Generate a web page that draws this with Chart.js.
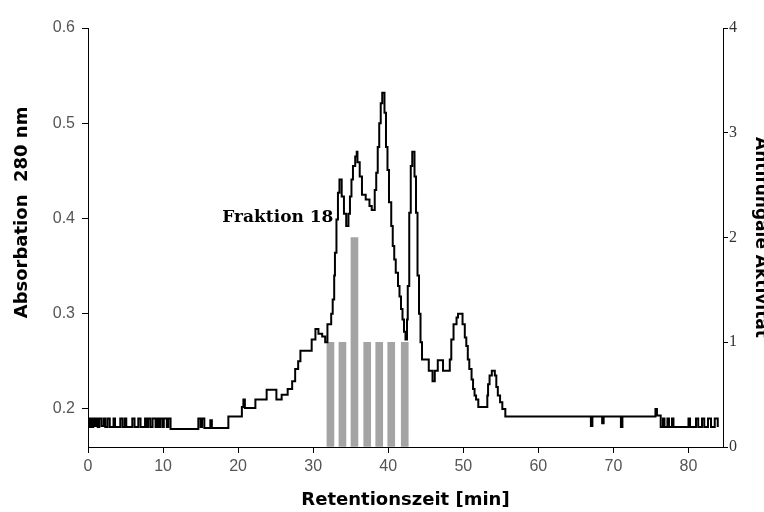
<!DOCTYPE html>
<html><head><meta charset="utf-8">
<script src="https://cdn.jsdelivr.net/npm/chart.js@4.4.1/dist/chart.umd.min.js"></script>
<style>
html,body{margin:0;padding:0;background:#fff;overflow:hidden;width:764px;height:512px}
#wrap{position:relative;width:790px;height:512px}
</style></head>
<body><div id="wrap"><canvas id="c"></canvas></div>
<script>
// Absorbance trace (step trace): time in minutes, absorbance at 280 nm
const retentionTime = [
  0.0,0.2,0.35,0.5,0.7,0.9,1.1,1.3,1.5,1.8,2.1,2.3,2.6,2.9,3.4,3.6,4.3,4.6,4.9,5.1,5.9,6.2,6.7,7.0,7.6,7.8,8.0,8.3,8.6,9.0,9.2,9.4,9.6,9.9,10.1,10.5,10.7,11.0,
  14.7,15.0,15.2,15.5,16.3,16.5,
  18.7,20.5,20.7,20.9,22.3,23.8,25.1,25.8,26.6,27.2,27.6,28.0,28.3,29.8,30.3,30.7,31.2,31.6,31.9,32.4,
  32.6,32.8,32.9,33.1,33.3,33.5,33.8,34.1,34.4,34.7,34.9,35.1,35.3,35.6,35.8,35.9,36.2,36.5,37.0,37.5,37.8,38.2,38.4,38.6,38.8,39.0,39.2,39.5,39.7,39.9,
  40.1,40.4,40.6,40.8,41.0,41.3,41.5,41.7,41.9,42.1,42.3,42.5,42.6,42.8,43.0,43.2,43.5,43.7,43.9,44.1,44.3,44.5,
  45.4,45.9,46.2,46.6,47.3,48.2,48.4,48.7,49.1,49.3,49.9,50.2,50.4,50.6,50.8,51.1,51.3,51.5,51.7,52.0,53.2,53.3,53.5,53.8,54.2,54.4,54.6,54.9,55.2,55.6,
  67.0,67.2,68.5,68.7,71.0,71.2,75.6,75.8,76.3,76.6,76.8,77.2,77.4,77.8,78.0,80.0,80.2,81.0,81.3,81.8,82.1,82.6,83.0,83.5,83.9
];
const absorbance = [
  0.19,0.181,0.19,0.181,0.19,0.182,0.19,0.181,0.19,0.182,0.19,0.181,0.19,0.181,0.19,0.181,0.19,0.181,0.19,0.181,0.19,0.181,0.19,0.181,0.19,0.181,0.19,0.181,0.19,0.181,0.19,0.181,0.19,0.181,0.19,0.181,0.19,0.179,
  0.19,0.181,0.19,0.18,0.188,0.18,
  0.192,0.202,0.21,0.201,0.21,0.22,0.21,0.215,0.221,0.229,0.242,0.25,0.261,0.273,0.284,0.279,0.276,0.27,0.289,0.3,
  0.315,0.34,0.364,0.399,0.427,0.441,0.423,0.405,0.392,0.405,0.423,0.441,0.455,0.465,0.47,0.459,0.444,0.425,0.42,0.413,0.409,0.43,0.448,0.475,0.5,0.521,0.532,0.511,0.475,0.451,
  0.417,0.392,0.371,0.357,0.343,0.329,0.318,0.305,0.294,0.281,0.273,0.294,0.329,0.406,0.455,0.47,0.444,0.406,0.34,0.3,0.27,0.252,
  0.24,0.229,0.24,0.251,0.24,0.252,0.273,0.289,0.296,0.3,0.289,0.275,0.266,0.252,0.242,0.231,0.221,0.214,0.21,0.202,0.214,0.226,0.235,0.24,0.235,0.223,0.214,0.207,0.2,0.192,
  0.182,0.192,0.185,0.192,0.181,0.192,0.2,0.193,0.181,0.19,0.181,0.19,0.181,0.19,0.181,0.19,0.181,0.19,0.181,0.19,0.181,0.19,0.181,0.19,0.181
];
// Fractions tested for antifungal activity
const fractionTime = [32.3, 33.9, 35.5, 37.2, 38.8, 40.4, 42.2];
const fractionActivity = [1, 1, 2, 1, 1, 1, 1];
// Axis ticks
const xTicks = [0, 10, 20, 30, 40, 50, 60, 70, 80];
const yTicks = [0.2, 0.3, 0.4, 0.5, 0.6];
const y2Ticks = [0, 1, 2, 3, 4];
const noteText = 'Fraktion 18';
const notePos = [32.7, 0.401];

const tracePoints = retentionTime.map((t, i) => ({x: t, y: absorbance[i]}));
const barPoints = fractionTime.map((t, i) => ({x: t, y: fractionActivity[i]}));

const notePlugin = {
  id: 'note',
  afterDatasetsDraw(chart) {
    const ctx = chart.ctx;
    const px = chart.scales.x.getPixelForValue(notePos[0]);
    const py = chart.scales.y.getPixelForValue(notePos[1]);
    ctx.save();
    ctx.font = 'bold 17px "DejaVu Serif"';
    ctx.fillStyle = '#000';
    ctx.textAlign = 'right';
    ctx.textBaseline = 'middle';
    ctx.fillText(noteText, px, py);
    ctx.restore();
  }
};

const axisGrid = {drawOnChartArea: false, drawTicks: true, color: '#000', lineWidth: 1};
const axisBorder = {display: true, color: '#000', width: 1};

new Chart(document.getElementById('c'), {
  type: 'line',
  data: {
    datasets: [
      {
        type: 'line', data: tracePoints, xAxisID: 'x', yAxisID: 'y',
        borderColor: '#000', borderWidth: 2, pointRadius: 0, stepped: 'before',
        fill: false, order: 0
      },
      {
        type: 'bar', data: barPoints, xAxisID: 'x', yAxisID: 'y2',
        backgroundColor: '#a4a4a4', borderWidth: 0, barThickness: 7, order: 1
      }
    ]
  },
  options: {
    responsive: true, maintainAspectRatio: false, animation: false,
    layout: {padding: {top: 28, left: 0, right: 0, bottom: 0}},
    plugins: {legend: {display: false}, tooltip: {enabled: false}},
    scales: {
      x: {
        type: 'linear', position: 'bottom', min: 0, max: 84.6, offset: false,
        afterBuildTicks: s => { s.ticks = xTicks.map(v => ({value: v})); },
        afterFit: s => { s.height = 65; },
        grid: Object.assign({}, axisGrid, {tickLength: 6, offset: false}),
        border: axisBorder,
        ticks: {color: '#555', font: {family: 'Liberation Sans', size: 16}, padding: 4, maxRotation: 0},
        title: {display: true, text: 'Retentionszeit [min]', color: '#000',
          font: {family: 'DejaVu Sans', weight: 'bold', size: 18}, padding: {top: 0, bottom: 1}}
      },
      y: {
        type: 'linear', position: 'left', min: 0.16, max: 0.6,
        afterBuildTicks: s => { s.ticks = yTicks.map(v => ({value: v})); },
        afterFit: s => { s.width = 88; },
        grid: Object.assign({}, axisGrid, {tickLength: 6}),
        border: axisBorder,
        ticks: {color: '#555', font: {family: 'Liberation Sans', size: 16}, padding: 7,
          callback: v => v.toFixed(1)},
        title: {display: true, text: '        Absorbation  280 nm', color: '#000',
          font: {family: 'DejaVu Sans', weight: 'bold', size: 18}, padding: {top: 12, bottom: 0}}
      },
      y2: {
        type: 'linear', position: 'right', min: 0, max: 4,
        afterBuildTicks: s => { s.ticks = y2Ticks.map(v => ({value: v})); },
        afterFit: s => { s.width = 67; },
        grid: Object.assign({}, axisGrid, {tickLength: 5}),
        border: axisBorder,
        ticks: {color: '#333', font: {family: 'Liberation Serif', size: 16}, padding: 1},
        title: {display: true, text: 'Antifungale Aktivität', color: '#000',
          font: {family: 'DejaVu Sans', weight: 'bold', size: 17}, padding: {top: 19, bottom: 0}}
      }
    }
  },
  plugins: [notePlugin]
});
</script>
</body></html>
